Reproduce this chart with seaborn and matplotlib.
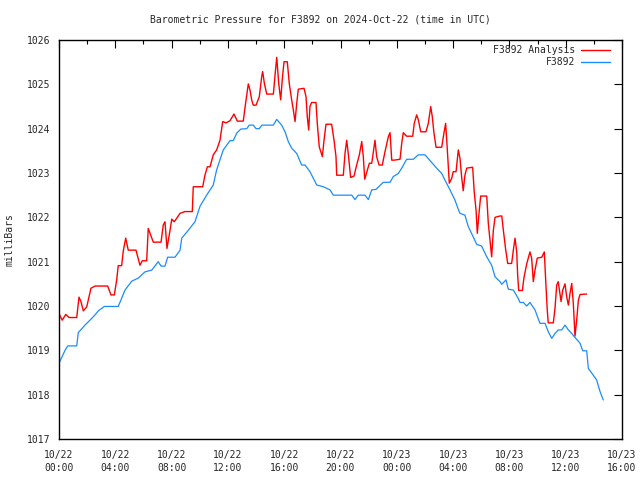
import numpy as np
import pandas as pd
import matplotlib
matplotlib.use("Agg")
import matplotlib.pyplot as plt
import seaborn as sns
from matplotlib.ticker import MultipleLocator

# hours since 2024-10-22 00:00 UTC, pressure in mb
station_hours = [0, 0.43, 0.62, 1.26, 1.37, 1.85, 2.20, 2.56, 2.79, 3.22, 4.21, 4.69,
                 5.17, 5.63, 6.11, 6.59, 7.05, 7.25, 7.53, 7.72, 8.24, 8.60, 8.72, 9.19,
                 9.66, 10.02, 10.49, 10.96, 11.20, 11.67, 12.15, 12.38, 12.63, 12.91,
                 13.34, 13.52, 13.80, 14.00, 14.23, 14.42, 15.23, 15.47, 15.82, 16.06,
                 16.29, 16.53, 16.89, 17.24, 17.48, 17.83, 18.31, 18.78, 19.25, 19.49,
                 20.80, 21.03, 21.26, 21.74, 21.98, 22.22, 22.52, 23.04, 23.52, 23.75,
                 24.11, 24.35, 24.70, 25.17, 25.53, 26.00, 26.36, 26.83, 27.19, 27.42,
                 27.78, 28.13, 28.37, 28.49, 28.84, 29.08, 29.43, 29.68, 30.03, 30.39,
                 30.74, 30.98, 31.33, 31.46, 31.76, 31.92, 32.28, 32.63, 32.75, 32.99,
                 33.23, 33.46, 33.82, 34.17, 34.53, 34.76, 35.01, 35.24, 35.47, 35.72,
                 35.95, 36.19, 36.43, 36.66, 37.02, 37.21, 37.49, 37.61, 37.96, 38.20,
                 38.44, 38.67]
station_mb = [1018.71, 1019.00, 1019.10, 1019.10, 1019.40, 1019.57, 1019.68, 1019.80,
              1019.89, 1019.99, 1019.99, 1020.36, 1020.56, 1020.63, 1020.77, 1020.81,
              1021.00, 1020.90, 1020.90, 1021.10, 1021.10, 1021.26, 1021.53, 1021.71,
              1021.90, 1022.25, 1022.50, 1022.73, 1023.07, 1023.52, 1023.73, 1023.73,
              1023.90, 1023.99, 1024.00, 1024.08, 1024.08, 1024.00, 1024.00, 1024.08,
              1024.08, 1024.21, 1024.08, 1023.93, 1023.71, 1023.56, 1023.44, 1023.18,
              1023.18, 1023.03, 1022.73, 1022.69, 1022.62, 1022.50, 1022.50, 1022.40,
              1022.50, 1022.50, 1022.40, 1022.62, 1022.63, 1022.79, 1022.79, 1022.92,
              1022.99, 1023.11, 1023.31, 1023.31, 1023.41, 1023.41, 1023.28, 1023.11,
              1022.99, 1022.84, 1022.62, 1022.39, 1022.18, 1022.09, 1022.05, 1021.79,
              1021.56, 1021.39, 1021.35, 1021.11, 1020.92, 1020.66, 1020.55, 1020.49,
              1020.59, 1020.38, 1020.36, 1020.17, 1020.08, 1020.08, 1020.00, 1020.08,
              1019.91, 1019.61, 1019.61, 1019.42, 1019.27, 1019.38, 1019.46, 1019.46,
              1019.57, 1019.46, 1019.38, 1019.29, 1019.16, 1018.99, 1018.99, 1018.59,
              1018.44, 1018.33, 1018.07, 1017.88]

analysis_hours = [0, 0.23, 0.48, 0.71, 1.26, 1.33, 1.42, 1.56, 1.73, 1.97, 2.08, 2.27,
                  2.56, 3.46, 3.69, 3.93, 4.10, 4.21, 4.45, 4.57, 4.74, 4.92, 5.47, 5.75,
                  5.92, 6.23, 6.34, 6.47, 6.70, 7.25, 7.41, 7.53, 7.67, 7.89, 8.01, 8.19,
                  8.60, 8.95, 9.47, 9.54, 10.21, 10.37, 10.54, 10.73, 10.96, 11.20, 11.44,
                  11.63, 11.87, 12.15, 12.43, 12.67, 13.09, 13.29, 13.45, 13.57, 13.69,
                  13.80, 14.00, 14.23, 14.40, 14.47, 14.59, 14.76, 15.23, 15.35, 15.47,
                  15.61, 15.75, 15.89, 15.99, 16.22, 16.36, 16.53, 16.65, 16.77, 16.89,
                  17.00, 17.41, 17.55, 17.64, 17.74, 17.83, 17.95, 18.26, 18.35, 18.49,
                  18.71, 18.83, 18.97, 19.37, 19.54, 19.68, 19.73, 20.20, 20.32, 20.44,
                  20.55, 20.72, 20.96, 21.15, 21.34, 21.51, 21.62, 21.72, 21.86, 22.05,
                  22.22, 22.38, 22.45, 22.57, 22.74, 22.97, 23.16, 23.40, 23.52, 23.64,
                  23.82, 24.23, 24.35, 24.46, 24.70, 25.13, 25.24, 25.41, 25.53, 25.70,
                  26.07, 26.24, 26.41, 26.52, 26.64, 26.79, 27.19, 27.35, 27.47, 27.59,
                  27.73, 27.90, 28.01, 28.21, 28.37, 28.49, 28.61, 28.72, 28.84, 28.97,
                  29.39, 29.50, 29.63, 29.72, 29.86, 29.96, 30.39, 30.50, 30.67, 30.74,
                  30.86, 30.98, 31.33, 31.46, 31.57, 31.74, 31.88, 32.16, 32.28, 32.40,
                  32.52, 32.58, 32.66, 32.92, 33.04, 33.23, 33.46, 33.58, 33.70, 33.82,
                  33.98, 34.30, 34.48, 34.60, 34.69, 34.76, 35.12, 35.24, 35.36, 35.47,
                  35.59, 35.67, 35.79, 35.95, 36.07, 36.19, 36.31, 36.43, 36.54, 36.66,
                  36.78, 36.90, 37.02, 37.49]
analysis_mb = [1019.83, 1019.68, 1019.81, 1019.74, 1019.74, 1019.95, 1020.20, 1020.10,
               1019.89, 1019.98, 1020.13, 1020.40, 1020.45, 1020.45, 1020.25, 1020.25,
               1020.59, 1020.91, 1020.91, 1021.25, 1021.53, 1021.26, 1021.26, 1020.92,
               1021.02, 1021.02, 1021.75, 1021.64, 1021.44, 1021.44, 1021.83, 1021.90,
               1021.30, 1021.71, 1021.96, 1021.90, 1022.09, 1022.13, 1022.13, 1022.69,
               1022.69, 1022.95, 1023.14, 1023.14, 1023.41, 1023.52, 1023.74, 1024.16,
               1024.13, 1024.18, 1024.33, 1024.17, 1024.17, 1024.65, 1025.01, 1024.87,
               1024.65, 1024.53, 1024.53, 1024.72, 1025.17, 1025.29, 1025.02, 1024.78,
               1024.78, 1025.21, 1025.61, 1025.02, 1024.65, 1025.21, 1025.51, 1025.51,
               1025.02, 1024.65, 1024.42, 1024.16, 1024.57, 1024.89, 1024.91, 1024.72,
               1024.27, 1023.97, 1024.50, 1024.59, 1024.59, 1024.12, 1023.59, 1023.37,
               1023.74, 1024.10, 1024.10, 1023.74, 1023.37, 1022.95, 1022.95, 1023.44,
               1023.74, 1023.44, 1022.90, 1022.93, 1023.18, 1023.41, 1023.71, 1023.37,
               1022.86, 1023.01, 1023.22, 1023.22, 1023.59, 1023.74, 1023.37, 1023.18,
               1023.18, 1023.48, 1023.82, 1023.91, 1023.29, 1023.29, 1023.31, 1023.67,
               1023.91, 1023.83, 1023.83, 1024.12, 1024.31, 1024.20, 1023.93, 1023.93,
               1024.12, 1024.50, 1024.27, 1023.90, 1023.58, 1023.58, 1023.90, 1024.12,
               1023.52, 1022.77, 1022.88, 1023.03, 1023.03, 1023.52, 1023.33, 1022.90,
               1022.60, 1022.95, 1023.11, 1023.13, 1022.58, 1022.16, 1021.64, 1022.16,
               1022.48, 1022.48, 1021.87, 1021.34, 1021.11, 1021.71, 1022.00, 1022.03,
               1022.03, 1021.71, 1021.26, 1020.96, 1020.96, 1021.26, 1021.53, 1021.22,
               1020.74, 1020.35, 1020.35, 1020.65, 1020.95, 1021.22, 1021.08, 1020.55,
               1020.81, 1021.08, 1021.10, 1021.22, 1020.44, 1019.91, 1019.62, 1019.62,
               1019.95, 1020.47, 1020.55, 1020.29, 1020.10, 1020.36, 1020.50, 1020.21,
               1020.02, 1020.29, 1020.51, 1020.06, 1019.32, 1019.68, 1020.13, 1020.26,
               1020.27]

tick_hours = [0, 4, 8, 12, 16, 20, 24, 28, 32, 36, 40]
tick_labels = ["10/22\n00:00", "10/22\n04:00", "10/22\n08:00", "10/22\n12:00",
               "10/22\n16:00", "10/22\n20:00", "10/23\n00:00", "10/23\n04:00",
               "10/23\n08:00", "10/23\n12:00", "10/23\n16:00"]
y_ticks = [1017, 1018, 1019, 1020, 1021, 1022, 1023, 1024, 1025, 1026]

RED = "#ff0000"
BLUE = "#1a8cff"
FS = 7

sns.set_theme(style="white")
plt.rcParams["font.family"] = ["DejaVu Sans Mono", "DejaVu Sans"]

fig = plt.figure(figsize=(6.4, 4.8), dpi=100)
ax = fig.add_axes([59 / 640, 1 - 439 / 480, (622 - 59) / 640, (439 - 40) / 480])

sns.lineplot(x=analysis_hours, y=analysis_mb, color=RED, lw=1.0, ax=ax,
             estimator=None, sort=False)
sns.lineplot(x=station_hours, y=station_mb, color=BLUE, lw=0.9, ax=ax,
             estimator=None, sort=False)

ax.set_xticks(tick_hours)
ax.set_xticklabels(tick_labels, fontsize=FS, linespacing=1.3)
ax.xaxis.set_minor_locator(MultipleLocator(2))
ax.set_yticks(y_ticks)
ax.set_yticklabels([str(v) for v in y_ticks], fontsize=FS)
ax.set_xlim(0, 40)
ax.set_ylim(1017, 1026)
ax.tick_params(axis="both", which="both", direction="in", top=True, right=True,
               color="black", width=0.8)
ax.tick_params(axis="both", which="major", length=6)
ax.tick_params(axis="x", which="minor", length=3)
ax.tick_params(axis="x", which="major", pad=8)
ax.tick_params(axis="y", which="major", pad=6)
for s in ax.spines.values():
    s.set_color("black")
    s.set_linewidth(1.0)
ax.grid(False)
ax.set_xlabel("")
ax.set_ylabel("")

fig.text(0.5, 1 - 19 / 480, "Barometric Pressure for F3892 on 2024-Oct-22 (time in UTC)",
         ha="center", va="center", fontsize=FS)
fig.text(10 / 640, 0.5, "milliBars", rotation=90, ha="center", va="center", fontsize=FS)

# gnuplot style key: text right aligned, sample line after it
for i, (lab, col) in enumerate([("F3892 Analysis", RED), ("F3892", BLUE)]):
    yy = 1 - (10 + 12.5 * i) / 399
    ax.text(516 / 563, yy, lab, transform=ax.transAxes, ha="right", va="center",
            fontsize=FS)
    ax.plot([522 / 563, 551 / 563], [yy, yy], transform=ax.transAxes, color=col, lw=1.0)

fig.savefig("out.png", dpi=100)
